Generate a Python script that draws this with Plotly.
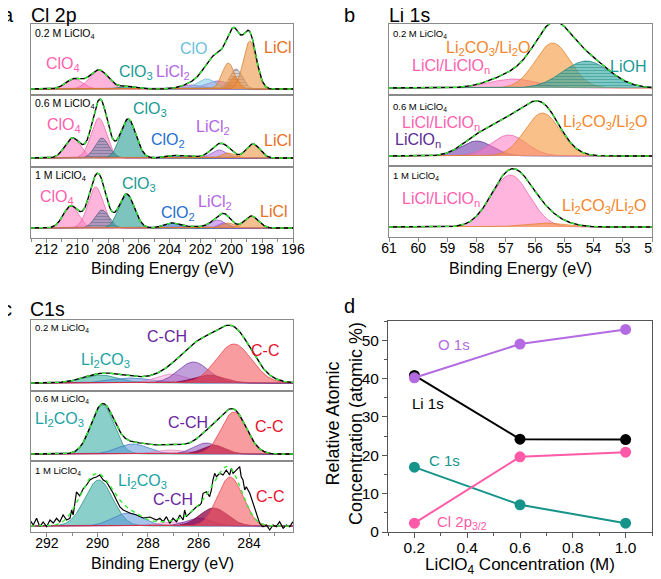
import numpy as np
import plotly.graph_objects as go

W, H = 661, 579
OFF = 8  # the page body adds an 8 px margin around the figure

# ====================== DATA ======================
# ---- panel a : Cl 2p  (binding energy / eV, intensity / a.u.)
cl_title = "Cl 2p"
cl_ticks = [212, 210, 208, 206, 204, 202, 200, 198, 196]
cl_samples = ["0.2 M LiClO<sub>4</sub>", "0.6 M LiClO<sub>4</sub>", "1 M LiClO<sub>4</sub>"]

cl02_kind   = ["ClO4", "ClO4", "ClO3", "LiCl2", "LiCl2", "ClO", "grey", "dot", "LiCl", "LiCl", "bg", "bg"]
cl02_center = [210.2, 208.6, 206.8, 202.6, 200.9, 201.6, 199.7, 199.8, 200.2, 198.8, 201.0, 199.3]
cl02_height = [10, 19, 2.5, 4, 8, 10, 20, 12, 26, 48, 17, 12]
cl02_width  = [0.55, 0.6, 0.6, 0.7, 0.8, 0.6, 0.4, 0.3, 0.4, 0.42, 0.5, 0.5]

cl06_kind   = ["ClO4", "ClO4", "slate", "ClO3", "ClO2", "LiCl2", "LiCl2", "LiCl", "LiCl", "bg"]
cl06_center = [210.3, 208.6, 208.4, 206.7, 203.8, 202.5, 200.8, 200.2, 198.6, 200.9]
cl06_height = [20, 40, 20, 39, 2.5, 1.5, 8, 5, 14, 5]
cl06_width  = [0.5, 0.5, 0.45, 0.5, 0.5, 0.6, 0.5, 0.4, 0.45, 0.5]

cl10_kind   = ["ClO4", "ClO4", "slate", "ClO3", "ClO2", "LiCl2", "LiCl2", "LiCl2", "LiCl", "LiCl"]
cl10_center = [210.4, 208.8, 208.4, 206.8, 203.9, 202.6, 200.9, 200.5, 200.2, 198.7]
cl10_height = [22, 41, 18, 34, 5, 1.5, 8, 5, 5, 12]
cl10_width  = [0.5, 0.5, 0.45, 0.5, 0.5, 0.6, 0.5, 0.35, 0.4, 0.45]

# ---- panel b : Li 1s
li_title = "Li 1s"
li_ticks = [61, 60, 59, 58, 57, 56, 55, 54, 53, 52]

li02_kind   = ["LiClOn", "Li2CO3", "LiOH", "bg"]
li02_center = [56.75, 55.4, 54.25, 55.8]
li02_height = [9, 45, 27, 10]
li02_width  = [0.8, 0.6, 0.8, 1.0]

li06_kind   = ["LiClOnP", "LiClOn", "Li2CO3", "bg"]
li06_center = [58.0, 56.9, 55.75, 56.6]
li06_height = [15, 21, 43, 11]
li06_width  = [0.55, 0.6, 0.6, 0.9]

li10_kind   = ["LiClOn", "Li2CO3", "bg"]
li10_center = [56.85, 55.7, 56.0]
li10_height = [52, 4, 10]
li10_width  = [0.65, 0.7, 0.7]

# ---- panel c : C 1s
c_title = "C1s"
c_ticks = [292, 290, 288, 286, 284]

c02_kind   = ["CO3", "CO", "COp", "CCH", "CM", "CC", "bg"]
c02_center = [289.9, 288.7, 287.1, 286.2, 285.6, 284.6, 285.0]
c02_height = [8, 5, 9, 21, 8, 39, 16]
c02_width  = [0.7, 0.8, 0.6, 0.6, 0.6, 0.7, 1.0]

c06_kind   = ["CO3", "CO", "COp", "CCH", "CM", "CC", "bg"]
c06_center = [289.8, 288.6, 287.1, 285.7, 285.4, 284.6, 287.0]
c06_height = [49, 10, 4, 11, 9, 42, 5]
c06_width  = [0.45, 0.6, 0.6, 0.5, 0.45, 0.5, 0.8]

c10_kind   = ["CO3", "CO", "COp", "CCH", "CM", "CC", "bg"]
c10_center = [289.95, 288.8, 287.0, 286.0, 285.4, 284.75, 290.6]
c10_height = [46, 13, 4, 8, 18, 49, 12]
c10_width  = [0.55, 0.6, 0.6, 0.5, 0.55, 0.5, 0.45]

# raw (noisy) C 1s spectrum of the 1 M sample
c10_raw_be = [292.67, 292.54, 292.41, 292.28, 292.15, 292.01, 291.88, 291.75, 291.62, 291.49,
              291.36, 291.22, 291.09, 291.02, 290.96, 290.83, 290.70, 290.57, 290.43, 290.30,
              290.17, 290.04, 289.91, 289.77, 289.64, 289.51, 289.38, 289.25, 289.11, 288.98,
              288.72, 288.45, 288.19, 287.93, 287.66, 287.53, 287.40, 287.27, 287.14, 287.01,
              286.87, 286.74, 286.61, 286.55, 286.48, 286.35, 286.22, 286.08, 285.95, 285.89,
              285.82, 285.69, 285.56, 285.49, 285.43, 285.36, 285.29, 285.16, 285.03, 284.90,
              284.77, 284.70, 284.63, 284.50, 284.37, 284.31, 284.24, 284.17, 284.11, 283.97,
              283.84, 283.71, 283.58, 283.45, 283.31, 283.18, 283.05, 282.92, 282.79, 282.65,
              282.52, 282.39, 282.26]
c10_raw_int = [6, 1, 7.7, -0.7, 4, -0.7, 6, 3, 7.7, 4,
               11, 6, 7.7, 16, 11, 34, 30, 37, 41, 46,
               48, 49, 51, 46, 44, 39, 33, 26, 19, 16,
               13, 11, 8, 9, 6, 7.7, 4.3, 9.3, 2.7, 7.7,
               4.3, 11, 6, 16, 9.3, 12.7, 16, 19.3, 21, 22.7,
               32.7, 34.3, 29.3, 36, 46, 52.7, 49.3, 52.7, 51, 56,
               51, 57.7, 52.7, 56, 59.3, 49.3, 46, 36, 39.3, 32.7,
               22.7, 12.7, 2.7, -0.7, 1, -4, 1, -0.7, 4.3, -2.3,
               1, -0.7, 4.3]

# ---- panel d : relative atomic concentration
conc = [0.2, 0.6, 1.0]
o1s  = [40.2, 49.0, 52.8]
li1s = [40.8, 24.2, 24.1]
c1s  = [16.9, 7.1, 2.3]
cl2p = [2.3, 19.6, 20.8]

# ====================== STYLE ======================
FONT = "Liberation Sans, Arial, sans-serif"
FRAME = "#8a8a8a"

STYLE = {
    "ClO4":   dict(fill="rgba(255,120,190,0.55)", line="rgba(235,95,165,0.9)"),
    "ClO3":   dict(fill="rgba(45,160,150,0.62)", line="rgba(25,125,115,0.9)"),
    "ClO2":   dict(fill="rgba(45,110,205,0.6)", line="rgba(30,90,185,0.9)"),
    "ClO":    dict(fill="rgba(130,205,230,0.55)", line="rgba(100,180,210,0.9)"),
    "LiCl2":  dict(fill="rgba(175,110,225,0.55)", line="rgba(150,85,205,0.9)"),
    "LiCl":   dict(fill="rgba(236,150,70,0.6)", line="rgba(215,120,40,0.9)"),
    "grey":   dict(fill="rgba(160,160,165,0.45)", line="rgba(120,120,125,0.9)", pat="-"),
    "dot":    dict(fill="rgba(225,100,25,0.55)", line="rgba(210,90,20,0.9)", pat="."),
    "slate":  dict(fill="rgba(110,125,160,0.55)", line="rgba(80,95,130,0.9)", pat="-"),
    "LiClOn": dict(fill="rgba(255,120,195,0.55)", line="rgba(235,95,170,0.9)"),
    "LiClOnP": dict(fill="rgba(110,60,170,0.6)", line="rgba(85,40,145,0.9)"),
    "Li2CO3": dict(fill="rgba(245,150,60,0.6)", line="rgba(225,125,35,0.9)"),
    "LiOH":   dict(fill="rgba(40,165,160,0.6)", line="rgba(25,130,125,0.9)", pat="-"),
    "CO3":    dict(fill="rgba(60,175,165,0.6)", line="rgba(35,140,130,0.9)"),
    "CO":     dict(fill="rgba(90,150,215,0.55)", line="rgba(60,120,195,0.9)"),
    "COp":    dict(fill="rgba(245,160,210,0.5)", line="rgba(225,130,190,0.9)"),
    "CCH":    dict(fill="rgba(140,80,190,0.55)", line="rgba(110,50,165,0.9)"),
    "CM":     dict(fill="rgba(140,0,70,0.75)", line="rgba(120,0,60,0.9)"),
    "CC":     dict(fill="rgba(245,90,95,0.6)", line="rgba(230,60,70,0.9)"),
    "bg":     None,
}

LAB = {
    "pink": "#ff5fae", "teal": "#1a9a94", "blue": "#1f6fd1", "lblue": "#6cbfdc",
    "purple": "#b366e6", "orange": "#e8701e", "lorange": "#f5862a", "dpurple": "#5b2a94",
    "cpurple": "#6a259e", "red": "#e8112d", "cteal": "#1aa3a3",
}


def px_x(px):
    return (px - OFF) / W


def px_y(py):
    return 1 - (py - OFF) / H


def gauss(E, c, h, w):
    return h * np.exp(-(E - c) ** 2 / (2 * w * w))


fig = go.Figure()

# subplot geometry in page pixels: (x0, x1, ytop, ybottom, y_range, be_range)
panels = {
    1: (31, 293, 24, 95, [-6, 65], [213.0, 196.0]),
    2: (31, 293, 95, 167, [-9, 63], [213.0, 196.0]),
    3: (31, 293, 167, 238, [-10, 61], [213.0, 196.0]),
    4: (389, 652, 24, 95, [-7, 64], [61.0, 52.0]),
    5: (389, 652, 95, 166, [-10, 61], [61.0, 52.0]),
    6: (389, 652, 166, 237, [-10, 61], [61.0, 52.0]),
    7: (31, 293, 320, 391, [-8, 63], [292.63, 282.26]),
    8: (31, 293, 391, 461, [-7, 63], [292.63, 282.26]),
    9: (31, 293, 461, 532, [-6, 65], [292.63, 282.26]),
}

spectra = {
    1: (cl02_kind, cl02_center, cl02_height, cl02_width),
    2: (cl06_kind, cl06_center, cl06_height, cl06_width),
    3: (cl10_kind, cl10_center, cl10_height, cl10_width),
    4: (li02_kind, li02_center, li02_height, li02_width),
    5: (li06_kind, li06_center, li06_height, li06_width),
    6: (li10_kind, li10_center, li10_height, li10_width),
    7: (c02_kind, c02_center, c02_height, c02_width),
    8: (c06_kind, c06_center, c06_height, c06_width),
    9: (c10_kind, c10_center, c10_height, c10_width),
}

layout_axes = {}
for i, (x0, x1, yt, yb, yr, br) in panels.items():
    kinds, cents, hts, wds = spectra[i]
    xa, ya = ("x" if i == 1 else f"x{i}"), ("y" if i == 1 else f"y{i}")
    E = np.linspace(br[0], br[1], 600)
    total = np.zeros_like(E)
    for k, c, h, w in zip(kinds, cents, hts, wds):
        yv = gauss(E, c, h, w)
        total += yv
        st = STYLE[k]
        if st is None:
            continue
        kw = dict(x=E, y=yv, mode="lines", fill="tozeroy", fillcolor=st["fill"],
                  line=dict(color=st["line"], width=0.8), xaxis=xa, yaxis=ya,
                  showlegend=False, hoverinfo="skip")
        if "pat" in st:
            kw["fillpattern"] = dict(shape=st["pat"], fgcolor=st["line"], bgcolor=st["fill"],
                                     size=3, solidity=0.35)
        fig.add_trace(go.Scatter(**kw))
    if i == 9:
        fig.add_trace(go.Scatter(x=c10_raw_be, y=c10_raw_int, mode="lines",
                                 line=dict(color="black", width=1.2), xaxis=xa, yaxis=ya,
                                 showlegend=False, hoverinfo="skip"))
    else:
        fig.add_trace(go.Scatter(x=E, y=total, mode="lines", line=dict(color="black", width=1.4),
                                 xaxis=xa, yaxis=ya, showlegend=False, hoverinfo="skip"))
    fig.add_trace(go.Scatter(x=E, y=total, mode="lines",
                             line=dict(color="#33ee33", width=1.4, dash="4px,4px"),
                             xaxis=xa, yaxis=ya, showlegend=False, hoverinfo="skip"))

    bottom = i in (3, 6, 9)
    xax = dict(domain=[px_x(x0), px_x(x1)], range=br, anchor=ya, showline=True,
               linecolor=FRAME, linewidth=1, mirror=True, showgrid=False, zeroline=False,
               fixedrange=True, automargin=False)
    if bottom:
        if i == 3:
            tv = cl_ticks
        elif i == 6:
            tv = li_ticks
        else:
            tv = c_ticks
        xax.update(tickmode="array", tickvals=tv, ticktext=[str(t) for t in tv],
                   ticks="outside", ticklen=4, tickcolor=FRAME, showticklabels=True,
                   ticklabelstandoff=-6,
                   tickfont=dict(family=FONT, size=14, color="black"))
        if i != 6:
            xax["minor"] = dict(ticks="outside", ticklen=2.5, tickcolor=FRAME, dtick=1)
    else:
        xax.update(showticklabels=False, ticks="")
    yax = dict(domain=[px_y(yb), px_y(yt)], range=yr, anchor=xa, showline=True,
               linecolor=FRAME, linewidth=1, mirror=True, showgrid=False, zeroline=False,
               showticklabels=False, ticks="", fixedrange=True, automargin=False)
    layout_axes["xaxis" if i == 1 else f"xaxis{i}"] = xax
    layout_axes["yaxis" if i == 1 else f"yaxis{i}"] = yax

# ---------------- panel d ----------------
series_d = [("Li 1s", li1s, "#000000"), ("O 1s", o1s, "#b36ae2"),
            ("C 1s", c1s, "#16948a"), ("Cl 2p", cl2p, "#ff5aa8")]
for name, vals, col in series_d:
    fig.add_trace(go.Scatter(x=conc, y=vals, mode="lines+markers", name=name,
                             line=dict(color=col, width=2), marker=dict(color=col, size=11),
                             xaxis="x10", yaxis="y10", showlegend=False, hoverinfo="skip"))

layout_axes["xaxis10"] = dict(domain=[px_x(388), px_x(652)], range=[0.1, 1.1], anchor="y10",
                              tickmode="array", tickvals=[0.2, 0.4, 0.6, 0.8, 1.0],
                              ticktext=["0.2", "0.4", "0.6", "0.8", "1.0"],
                              ticks="outside", ticklen=5, tickcolor="#555",
                              minor=dict(ticks="outside", ticklen=3, tickcolor="#555", dtick=0.1, tick0=0.1),
                              showline=True, linecolor="#555", linewidth=1, mirror=True,
                              showgrid=False, zeroline=False, automargin=False,
                              ticklabelstandoff=-4,
                              tickfont=dict(family=FONT, size=15.5, color="black"))
layout_axes["yaxis10"] = dict(domain=[px_y(532), px_y(321)], range=[0, 55], anchor="x10",
                              tickmode="array", tickvals=[0, 10, 20, 30, 40, 50],
                              ticks="outside", ticklen=5, tickcolor="#555",
                              minor=dict(ticks="outside", ticklen=3, tickcolor="#555", dtick=5),
                              showline=True, linecolor="#555", linewidth=1, mirror=True,
                              showgrid=False, zeroline=False, automargin=False,
                              tickfont=dict(family=FONT, size=15.5, color="black"))

# ---------------- annotations ----------------
ann = []


def A(text, x, y, size, color="black", xanchor="center", yanchor="middle", angle=0):
    ann.append(dict(text=text, x=px_x(x), y=px_y(y), xref="paper", yref="paper",
                    showarrow=False, xanchor=xanchor, yanchor=yanchor, textangle=angle,
                    font=dict(family=FONT, size=size, color=color)))


# panel letters and titles
A("a", 8, 15, 20)
A(cl_title, 29, 15, 19.5, xanchor="left")
A("b", 349, 15, 20)
A(li_title, 387, 15, 19.5, xanchor="left")
A("c", 7, 309, 20)
A(c_title, 28, 309, 19.5, xanchor="left")
A("d", 349, 306, 20)

# sample labels
A(cl_samples[0], 33, 34, 10.5, xanchor="left")
A(cl_samples[1], 33, 104, 10.5, xanchor="left")
A(cl_samples[2], 33, 176, 10.5, xanchor="left")
A(cl_samples[0], 391, 34, 9.5, xanchor="left")
A(cl_samples[1], 391, 107, 9.5, xanchor="left")
A(cl_samples[2], 391, 176, 9.5, xanchor="left")
A(cl_samples[0], 33, 328, 9.5, xanchor="left")
A(cl_samples[1], 33, 399, 9.5, xanchor="left")
A(cl_samples[2], 33, 471, 9.5, xanchor="left")

# panel a component labels
A("ClO<sub>4</sub>", 63, 64, 16, LAB["pink"])
A("ClO<sub>3</sub>", 136, 72, 16, LAB["teal"])
A("LiCl<sub>2</sub>", 173, 72, 16, LAB["purple"])
A("ClO", 194, 49, 16, LAB["lblue"])
A("LiCl", 278, 47, 16, LAB["orange"])
A("ClO<sub>4</sub>", 64, 125, 16, LAB["pink"])
A("ClO<sub>3</sub>", 150, 110, 16, LAB["teal"])
A("ClO<sub>2</sub>", 168, 140, 16, LAB["blue"])
A("LiCl<sub>2</sub>", 213, 128, 16, LAB["purple"])
A("LiCl", 278, 140, 16, LAB["orange"])
A("ClO<sub>4</sub>", 57, 197, 16, LAB["pink"])
A("ClO<sub>3</sub>", 139, 184, 16, LAB["teal"])
A("ClO<sub>2</sub>", 178, 213, 16, LAB["blue"])
A("LiCl<sub>2</sub>", 215, 203, 16, LAB["purple"])
A("LiCl", 274, 211, 16, LAB["orange"])

# panel b component labels
A("Li<sub>2</sub>CO<sub>3</sub>/Li<sub>2</sub>O", 488, 49, 16, LAB["lorange"])
A("LiCl/LiClO<sub>n</sub>", 451, 67, 16, LAB["pink"])
A("LiOH", 628, 67, 16, LAB["teal"])
A("LiCl/LiClO<sub>n</sub>", 441, 123, 16, LAB["pink"])
A("LiClO<sub>n</sub>", 418, 140, 16, LAB["dpurple"])
A("Li<sub>2</sub>CO<sub>3</sub>/Li<sub>2</sub>O", 605, 122, 16, LAB["lorange"])
A("LiCl/LiClO<sub>n</sub>", 441, 199, 16, LAB["pink"])
A("Li<sub>2</sub>CO<sub>3</sub>/Li<sub>2</sub>O", 604, 207, 16, LAB["lorange"])

# panel c component labels
A("Li<sub>2</sub>CO<sub>3</sub>", 105, 360, 16, LAB["cteal"])
A("C-CH", 167, 336, 16, LAB["cpurple"])
A("C-C", 265, 350, 16, LAB["red"])
A("Li<sub>2</sub>CO<sub>3</sub>", 59, 419, 16, LAB["cteal"])
A("C-CH", 188, 422, 16, LAB["cpurple"])
A("C-C", 269, 426, 16, LAB["red"])
A("Li<sub>2</sub>CO<sub>3</sub>", 142, 481, 16, LAB["cteal"])
A("C-CH", 173, 499, 16, LAB["cpurple"])
A("C-C", 270, 496, 16, LAB["red"])

# axis titles
A("Binding Energy (eV)", 162, 268, 16)
A("Binding Energy (eV)", 520, 268, 16)
A("Binding Energy (eV)", 162, 563, 16)
A("LiClO<sub>4</sub> Concentration (M)", 520, 566, 17)
A("Relative Atomic<br>Concentration (atomic %)", 344, 424, 18, angle=-90)

# panel d series labels (data coordinates)
for text, x, y, col in [("O 1s", 0.35, 49, "#b36ae2"), ("Li 1s", 0.253, 33.4, "black"),
                        ("C 1s", 0.314, 18.6, "#16948a"),
                        ("Cl 2p<sub>3/2</sub>", 0.38, 2.6, "#ff5aa8")]:
    ann.append(dict(text=text, x=x, y=y, xref="x10", yref="y10", showarrow=False,
                    font=dict(family=FONT, size=15, color=col)))

fig.update_layout(width=W, height=H, margin=dict(l=0, r=0, t=0, b=0),
                  paper_bgcolor="white", plot_bgcolor="white", showlegend=False,
                  annotations=ann, font=dict(family=FONT), **layout_axes)

fig.write_html("out.html")
